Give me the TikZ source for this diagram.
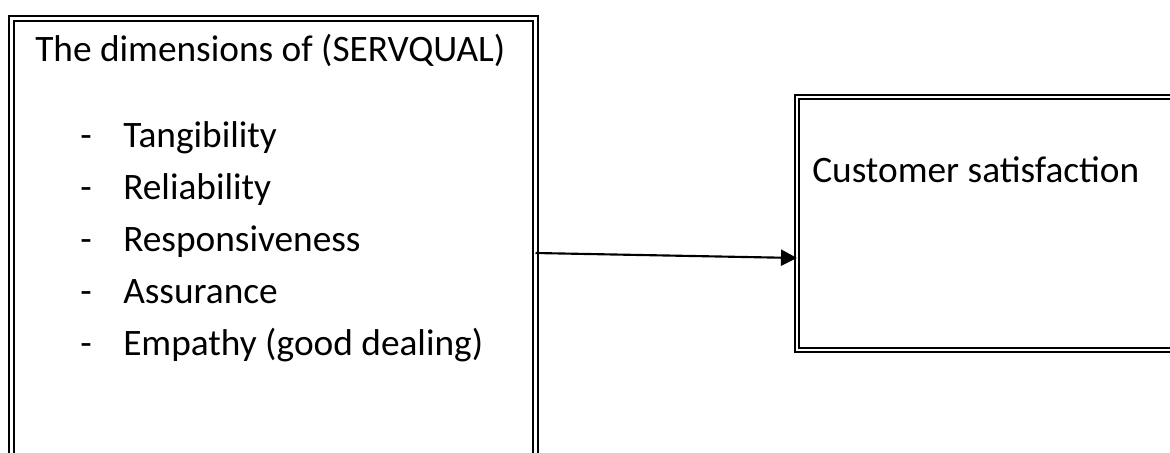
\documentclass[tikz,border=0pt]{standalone}
\usepackage{fontspec}
\setmainfont{Carlito}
\usetikzlibrary{positioning,arrows.meta}

\tikzset{
  framebox/.style={draw, double, line width=2pt, double distance=1.8pt, outer sep=0pt, inner sep=0pt, anchor=north west},
  boxtext/.style={anchor=base west, inner sep=0pt, font=\fontsize{28}{34}\selectfont},
  flow/.style={-{Triangle[length=12pt,width=12pt]}, line width=1.6pt},
}

\begin{document}
\begin{tikzpicture}[x=0.75pt,y=-0.75pt]
		\useasboundingbox (0,0) rectangle (1170,453);
		\clip (0,0) rectangle (1170,453);
		% the two frames
		\node[framebox, minimum width=393pt, minimum height=360pt] (dims) at (11.5,18.5) {};
		\node[framebox, line width=1.8pt, double distance=1.2pt, minimum width=300pt, minimum height=189.75pt] (sat) at (797,97) {};
		% texts
		\node[boxtext] (dims-title) at (35,61) {The dimensions of (SERVQUAL)};
		\foreach \name [count=\i] in {Tangibility, Reliability, Responsiveness, Assurance, {Empathy (good dealing)}}
		{
			\node[boxtext] (dash-\i) at (80,{147+52*(\i-1)}) {-};
			\node[boxtext] (item-\i) at (123,{147+52*(\i-1)}) {\name};
		}
		\node[boxtext] (sat-title) at (812,182) {Customer satisfaction};
		% connector
		\coordinate (flow-s) at (dims.north east |- 0,253);
		\coordinate (flow-e) at (sat.north west |- 0,258);
		\draw[flow] (flow-s) -- (flow-e);
\end{tikzpicture}
\end{document}
